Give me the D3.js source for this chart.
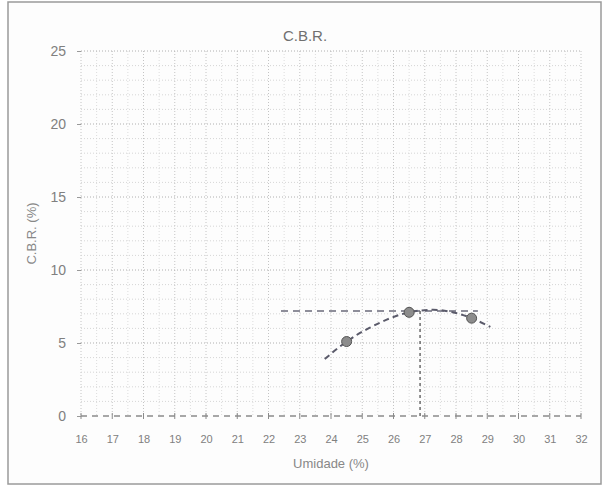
<!DOCTYPE html>
<html>
<head>
<meta charset="utf-8">
<script src="https://cdn.jsdelivr.net/npm/d3@7"></script>
<style>
  body { margin: 0; background: #fff; }
  text { font-family: "Liberation Sans", Arial, sans-serif; }
</style>
</head>
<body>
<div id="chart"></div>
<script>
// Ensaio C.B.R. - pontos medidos
const umidade = [24.5, 26.5, 28.5];
const cbr = [5.1, 7.1, 6.7];

// Curva de tendencia
const curvaX = [23.8, 24.5, 25.2, 25.9, 26.5, 27.0, 27.5, 28.0, 28.5, 29.1];
const curvaY = [3.9, 5.1, 6.0, 6.7, 7.1, 7.25, 7.25, 7.05, 6.7, 6.1];

// Linhas de leitura (umidade otima / CBR)
const linhaHorizX = [22.4, 28.7];
const linhaHorizY = [7.2, 7.2];
const linhaVertX = [26.85, 26.85];
const linhaVertY = [0, 7.25];

const xTicks = d3.range(16, 33, 1);
const yTicks = [0, 5, 10, 15, 20, 25];

const width = 605, height = 488;
const margin = { top: 51, right: 24, bottom: 72, left: 81 };
const innerW = width - margin.left - margin.right;
const innerH = height - margin.top - margin.bottom;

const svg = d3.select("#chart")
    .append("svg")
    .attr("width", width)
    .attr("height", height);

// moldura
svg.append("rect")
    .attr("x", 8).attr("y", 2)
    .attr("width", 593).attr("height", 482)
    .attr("fill", "#fdfdfd")
    .attr("stroke", "#9a9a9a")
    .attr("stroke-width", 1.5);

const g = svg.append("g")
    .attr("transform", `translate(${margin.left},${margin.top})`);

const x = d3.scaleLinear().domain([16, 32]).range([0, innerW]);
const y = d3.scaleLinear().domain([0, 25]).range([innerH, 0]);

// grade secundaria
g.append("g")
    .selectAll("line")
    .data(d3.range(16, 32.01, 0.5))
    .enter().append("line")
    .attr("x1", d => x(d)).attr("x2", d => x(d))
    .attr("y1", 0).attr("y2", innerH)
    .attr("stroke", d => Number.isInteger(d) ? "#c4c4c4" : "#dcdcdc")
    .attr("stroke-width", 1)
    .attr("stroke-dasharray", "1,2");

g.append("g")
    .selectAll("line")
    .data(d3.range(1, 26, 1))
    .enter().append("line")
    .attr("x1", 0).attr("x2", innerW)
    .attr("y1", d => y(d)).attr("y2", d => y(d))
    .attr("stroke", d => d % 5 === 0 ? "#b0b0b0" : "#d6d6d6")
    .attr("stroke-width", 1)
    .attr("stroke-dasharray", "1,2");

// eixo y
const yAxis = g.append("g")
    .call(d3.axisLeft(y).tickValues(yTicks).tickSize(4).tickPadding(11));
yAxis.select(".domain").remove();
yAxis.selectAll("line").attr("stroke", "#999");
yAxis.selectAll("text")
    .style("font-size", "14px")
    .attr("fill", "#808080");

// eixo x
const xAxis = g.append("g")
    .attr("transform", `translate(0,${innerH})`)
    .call(d3.axisBottom(x).tickValues(xTicks).tickSize(0).tickPadding(19));
xAxis.select(".domain").remove();
xAxis.selectAll("text")
    .style("font-size", "11px")
    .attr("fill", "#808080");

// linha tracejada no zero com marcas
g.append("line")
    .attr("x1", x(16)).attr("x2", x(32))
    .attr("y1", y(0)).attr("y2", y(0))
    .attr("stroke", "#8a8a8a")
    .attr("stroke-width", 1.5)
    .attr("stroke-dasharray", "6,5");

g.append("g")
    .selectAll("line")
    .data(d3.range(16, 32.01, 1))
    .enter().append("line")
    .attr("x1", d => x(d)).attr("x2", d => x(d))
    .attr("y1", y(0) - 3).attr("y2", y(0) + 3)
    .attr("stroke", "#8a8a8a")
    .attr("stroke-width", 1);

const line = d3.line()
    .x(d => x(d[0]))
    .y(d => y(d[1]));

// linha horizontal
g.append("path")
    .datum(d3.zip(linhaHorizX, linhaHorizY))
    .attr("d", line)
    .attr("fill", "none")
    .attr("stroke", "#6a6a7a")
    .attr("stroke-width", 1.5)
    .attr("stroke-dasharray", "7,5");

// linha vertical
g.append("path")
    .datum(d3.zip(linhaVertX, linhaVertY))
    .attr("d", line)
    .attr("fill", "none")
    .attr("stroke", "#6a6a6a")
    .attr("stroke-width", 1.5)
    .attr("stroke-dasharray", "3,3");

// curva
g.append("path")
    .datum(d3.zip(curvaX, curvaY))
    .attr("d", line.curve(d3.curveNatural))
    .attr("fill", "none")
    .attr("stroke", "#5a5a6a")
    .attr("stroke-width", 2)
    .attr("stroke-dasharray", "6,4");

// pontos
g.selectAll(".ponto")
    .data(d3.zip(umidade, cbr))
    .enter().append("circle")
    .attr("class", "ponto")
    .attr("cx", d => x(d[0]))
    .attr("cy", d => y(d[1]))
    .attr("r", 5)
    .attr("fill", "#8c8c8c")
    .attr("stroke", "#555")
    .attr("stroke-width", 1);

// titulos
svg.append("text")
    .attr("x", 305).attr("y", 41)
    .attr("text-anchor", "middle")
    .style("font-size", "15px")
    .attr("fill", "#707070")
    .text("C.B.R.");

svg.append("text")
    .attr("x", margin.left + innerW / 2).attr("y", 468)
    .attr("text-anchor", "middle")
    .style("font-size", "13px")
    .attr("fill", "#888")
    .text("Umidade (%)");

svg.append("text")
    .attr("transform", `translate(36,${margin.top + innerH / 2}) rotate(-90)`)
    .attr("text-anchor", "middle")
    .style("font-size", "13px")
    .attr("fill", "#888")
    .text("C.B.R. (%)");
</script>
</body>
</html>
